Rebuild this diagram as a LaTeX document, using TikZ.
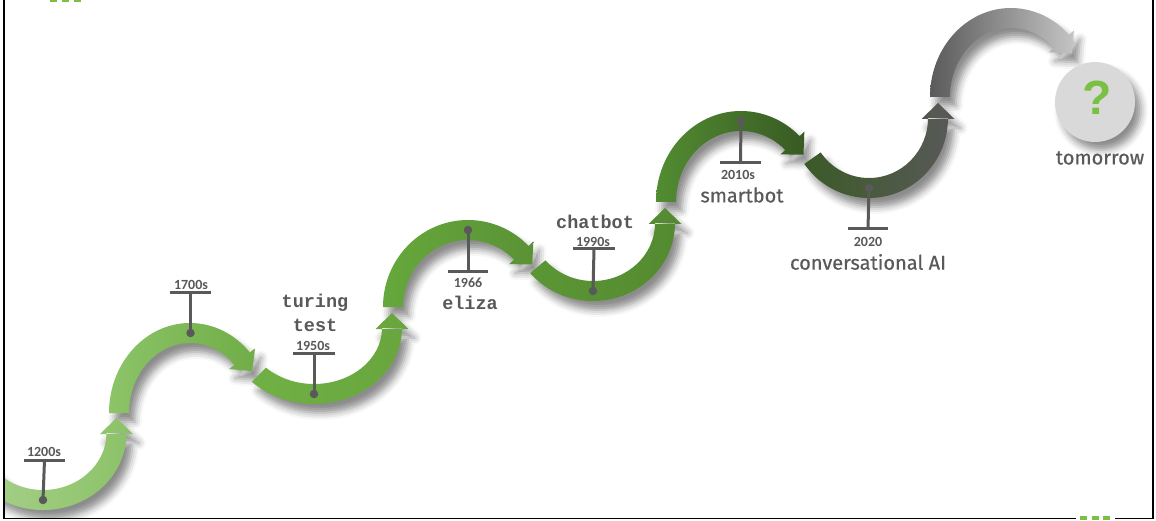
\documentclass[tikz,border=0pt]{standalone}
\usepackage{fontspec}
\usetikzlibrary{shadows.blur}
\newfontfamily\datefont{Carlito}
\newfontfamily\codefont{Liberation Mono}
\newfontfamily\labelfont{Fira Sans}[FakeBold=0.5]
\newfontfamily\markfont{Liberation Sans}

\definecolor{ink}{HTML}{595959}
\definecolor{qgreen}{HTML}{7AC143}
\definecolor{qgrey}{HTML}{D9D9D9}
\definecolor{cA1}{HTML}{A9D18E}\definecolor{cA2}{HTML}{8BC267}
\definecolor{cB1}{HTML}{8CC468}\definecolor{cB2}{HTML}{70AD47}
\definecolor{cC1}{HTML}{70B044}\definecolor{cC2}{HTML}{68A63D}
\definecolor{cD1}{HTML}{66A83C}\definecolor{cD2}{HTML}{5A9235}
\definecolor{cE1}{HTML}{5B9635}\definecolor{cE2}{HTML}{548A30}
\definecolor{cF1}{HTML}{528C31}\definecolor{cF2}{HTML}{385A24}
\definecolor{cG1}{HTML}{3B5A27}\definecolor{cG2}{HTML}{595959}
\definecolor{cH1}{HTML}{5A5A5A}\definecolor{cH2}{HTML}{C4C4C4}

% half band width, arrow head half width and length
\newcommand\bw{10}
\newcommand\hw{16.5}
\newcommand\hl{15}

% #1 path options, #2 #3 centre, #4 #5 radii, #6 start angle, #7 end angle (arrow end)
\newcommand\arcpiece[7]{%
  \pgfmathsetmacro\sg{ifthenelse(#7>#6,1,-1)}%
  \pgfmathsetmacro\tx{-\sg*#4*sin(#7)}%
  \pgfmathsetmacro\ty{\sg*#5*cos(#7)}%
  \pgfmathsetmacro\tl{veclen(\tx,\ty)}%
  \pgfmathsetmacro\ux{\tx/\tl}%
  \pgfmathsetmacro\uy{\ty/\tl}%
  \pgfmathsetmacro\px{#2+#4*cos(#7)-\ux}%
  \pgfmathsetmacro\py{#3+#5*sin(#7)-\uy}%
  \path[#1]
    (#2,#3) ++(#6:{#4+\bw} and {#5+\bw})
    arc[start angle=#6, end angle=#7, x radius={#4+\bw}, y radius={#5+\bw}]
    -- ({#2+(#4-\bw)*cos(#7)},{#3+(#5-\bw)*sin(#7)})
    arc[start angle=#7, end angle=#6, x radius={#4-\bw}, y radius={#5-\bw}]
    -- cycle
    ({\px-\hw*(\uy)},{\py+\hw*(\ux)})
    -- ({\px+(\hl+1)*(\ux)},{\py+(\hl+1)*(\uy)})
    -- ({\px+\hw*(\uy)},{\py-\hw*(\ux)}) -- cycle;
}

\begin{document}
\begin{tikzpicture}[x=1pt,y=1pt,
  piece shadow/.style={blur shadow={shadow xshift=6pt, shadow yshift=-9pt,
      shadow blur radius=7pt, shadow opacity=45}},
  dot/.style={circle, fill=ink, inner sep=0pt, minimum size=8.5pt},
  bar/.style={rectangle, fill=ink, inner sep=0pt, minimum height=3pt},
  stem/.style={draw=ink, line width=3pt},
  date/.style={text=ink, font=\datefont\bfseries\fontsize{14}{16}\selectfont, inner sep=0pt},
  code/.style={text=ink, font=\codefont\bfseries\fontsize{18.5}{20}\selectfont, inner sep=0pt},
  big/.style={text=ink, font=\labelfont\fontsize{20}{22}\selectfont, inner sep=0pt},
  frameline/.style={draw=black, line width=1.5pt},
  greenmark/.style={fill=qgreen}]
\useasboundingbox (0,0) rectangle (1156,520);

\begin{scope}
  \clip (5,2) rectangle (1152,520);
  % shadows first, so that no shadow falls across a band
  \arcpiece{piece shadow}{43}{87}{73.5}{67}{195}{360}
  \arcpiece{piece shadow}{190}{107}{71}{80}{180}{42}
  \arcpiece{piece shadow}{314}{192}{78}{66}{225}{360}
  \arcpiece{piece shadow}{468}{213}{75}{77}{180}{44}
  \arcpiece{piece shadow}{593}{297}{72}{68}{220}{360}
  \arcpiece{piece shadow}{741}{318}{75}{81}{180}{46}
  \arcpiece{piece shadow}{869}{402}{69}{70}{215}{360}
  \arcpiece{piece shadow}{1011}{423}{71}{79}{180}{44}
  % the bands with their arrow heads
  \arcpiece{left color=cA1, right color=cA2}{43}{87}{73.5}{67}{195}{360}
  \arcpiece{left color=cB1, right color=cB2}{190}{107}{71}{80}{180}{42}
  \arcpiece{left color=cC1, right color=cC2}{314}{192}{78}{66}{225}{360}
  \arcpiece{left color=cD1, right color=cD2}{468}{213}{75}{77}{180}{44}
  \arcpiece{left color=cE1, right color=cE2}{593}{297}{72}{68}{220}{360}
  \arcpiece{left color=cF1, right color=cF2}{741}{318}{75}{81}{180}{46}
  \arcpiece{left color=cG1, right color=cG2}{869}{402}{69}{70}{215}{360}
  \arcpiece{left color=cH1, right color=cH2}{1011}{423}{71}{79}{180}{44}
\end{scope}

% milestone markers
\node[dot] (d1200) at (43,20) {};
\node[bar, minimum width=41pt] (b1200) at (44.5,60) {};
\draw[stem] (d1200.center) -- (b1200.center);
\node[date] (t1200) at (44,68) {1200s};

\node[dot] (d1700) at (190.5,187) {};
\node[bar, minimum width=41pt] (b1700) at (190.5,228) {};
\draw[stem] (d1700.center) -- (b1700.center);
\node[date] (t1700) at (191,235) {1700s};

\node[dot] (d1950) at (314,126) {};
\node[bar, minimum width=42pt] (b1950) at (314,167) {};
\draw[stem] (d1950.center) -- (b1950.center);
\node[date] (t1950) at (313,174.5) {1950s};
\node[code] (turing) at (315,217) {turing};
\node[code] (test) at (315,195) {test};

\node[dot] (d1966) at (468,290) {};
\node[bar, minimum width=40pt] (b1966) at (468,248) {};
\draw[stem] (d1966.center) -- (b1966.center);
\node[date] (t1966) at (468,237) {1966};
\node[code] (eliza) at (470,217) {eliza};

\node[dot] (d1990) at (593,229) {};
\node[bar, minimum width=42pt] (b1990) at (594,271) {};
\draw[stem] (d1990.center) -- (b1990.center);
\node[date] (t1990) at (593,278.5) {1990s};
\node[code] (chatbot) at (595,298) {chatbot};

\node[dot] (d2010) at (741,399) {};
\node[bar, minimum width=41pt] (b2010) at (740.5,357) {};
\draw[stem] (d2010.center) -- (b2010.center);
\node[date] (t2010) at (738,345) {2010s};
\node[big] (smartbot) at (742,325) {smartbot};

\node[dot] (d2020) at (869,332) {};
\node[bar, minimum width=40pt] (b2020) at (868,291) {};
\draw[stem] (d2020.center) -- (b2020.center);
\node[date] (t2020) at (868,278) {2020};
\node[big] (convai) at (868,258) {conversational AI};

% the open end
\node[circle, fill=qgrey, minimum size=80pt, inner sep=0pt,
      blur shadow={shadow xshift=6pt, shadow yshift=-8pt, shadow blur radius=7pt, shadow opacity=45}]
      (future) at (1095,418) {};
\node[text=qgreen, font=\markfont\bfseries\fontsize{48}{50}\selectfont, inner sep=0pt]
      (qmark) at (1097,422) {?};
\node[big] (tomorrow) at (1100,362) {tomorrow};

% frame
\draw[frameline, line width=2pt] (4,520) -- (4,1.5);
\draw[frameline] (4,1.5) -- (1076,1.5);
\draw[frameline] (1115,1.5) -- (1153,1.5) -- (1153,520);
\fill[greenmark] (50,517.5) rectangle (57,520);
\fill[greenmark] (62,517.5) rectangle (69,520);
\fill[greenmark] (74,517.5) rectangle (81,520);
\fill[greenmark] (1080,0) rectangle (1087,4);
\fill[greenmark] (1092,0) rectangle (1099,4);
\fill[greenmark] (1103,0) rectangle (1110,4);
\end{tikzpicture}
\end{document}
